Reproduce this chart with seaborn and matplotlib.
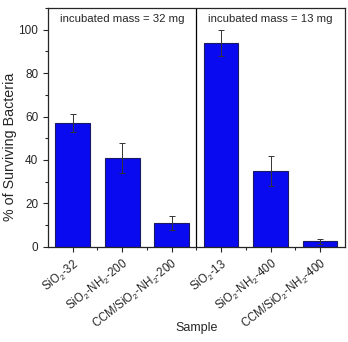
import numpy as np
import pandas as pd
import matplotlib
matplotlib.use("Agg")
import matplotlib.pyplot as plt
import seaborn as sns
from matplotlib.ticker import MultipleLocator, FixedLocator

samples = ["SiO$_2$-32", "SiO$_2$-NH$_2$-200", "CCM/SiO$_2$-NH$_2$-200",
           "SiO$_2$-13", "SiO$_2$-NH$_2$-400", "CCM/SiO$_2$-NH$_2$-400"]
surviving = [57, 41, 11, 94, 35, 2.5]
errors = [4, 7, 3, 6, 7, 1]
panel_labels = ["incubated mass = 32 mg", "incubated mass = 13 mg"]

df = pd.DataFrame({"Sample": samples, "Surviving": surviving})

sns.set_style("ticks")
plt.rcParams["font.family"] = ["Liberation Sans", "DejaVu Sans"]
plt.rcParams["mathtext.fontset"] = "custom"
plt.rcParams["mathtext.rm"] = "Liberation Sans"

fig, ax = plt.subplots(figsize=(3.48, 3.42), dpi=100)
sns.barplot(data=df, x="Sample", y="Surviving", color="#0a0af0",
            edgecolor="#1a1a60", linewidth=0.8, width=0.7, saturation=1, ax=ax)
ax.errorbar(np.arange(len(samples)), surviving, yerr=errors, fmt="none",
            ecolor="#333333", elinewidth=0.7, capsize=2, capthick=0.7)

ax.set_xlim(-0.5, 5.5)
ax.set_ylim(0, 110)
ax.axvline(2.5, color="black", linewidth=0.9)
ax.text(1, 105, panel_labels[0], ha="center", va="center", fontsize=8.2)
ax.text(4, 105, panel_labels[1], ha="center", va="center", fontsize=8.2)

ax.yaxis.set_major_locator(MultipleLocator(20))
ax.yaxis.set_minor_locator(MultipleLocator(10))
ax.xaxis.set_minor_locator(FixedLocator([0.5, 1.5, 2.5, 3.5, 4.5]))
ax.tick_params(which="both", direction="out", labelsize=8.5, width=0.8)
ax.tick_params(which="major", length=3.5)
ax.tick_params(which="minor", length=2)
ax.set_xticks(range(len(samples)))
ax.set_xticklabels(samples, rotation=38, ha="right", rotation_mode="anchor", fontsize=8.3)

for s in ax.spines.values():
    s.set_visible(True)
    s.set_linewidth(0.9)

ax.set_xlabel("Sample", fontsize=9)
ax.xaxis.set_label_coords(0.5, -0.315)
ax.set_ylabel("% of Surviving Bacteria", fontsize=10.3)
ax.yaxis.set_label_coords(-0.105, 0.42)

plt.subplots_adjust(left=0.138, right=0.991, top=0.977, bottom=0.278)
plt.savefig("out.png", dpi=100)
